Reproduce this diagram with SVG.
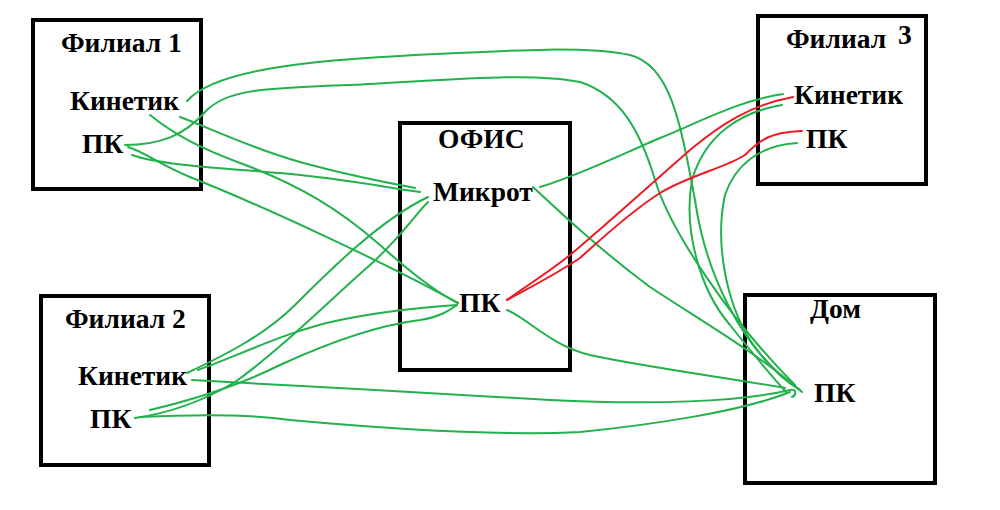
<svg xmlns="http://www.w3.org/2000/svg" width="1000" height="510" viewBox="0 0 1000 510">
<style>
.box{fill:none;stroke:#000;stroke-width:4}
.t{font-family:"Liberation Serif","Times New Roman",serif;font-weight:bold;font-size:27.5px;fill:#000}
.g{fill:none;stroke:#22b14c;stroke-width:2;stroke-linecap:round;stroke-linejoin:round}
.r{fill:none;stroke:#ed1c24;stroke-width:2;stroke-linecap:round;stroke-linejoin:round}
</style>
<rect width="1000" height="510" fill="#fff"/>
<g id="filial1">
<rect class="box" x="33" y="20" width="168" height="169"/>
<text class="t" x="61" y="52">Филиал 1</text>
<text class="t" x="70" y="110">Кинетик</text>
<text class="t" x="82" y="153">ПК</text>
</g>
<g id="filial2">
<rect class="box" x="41" y="296" width="168" height="169"/>
<text class="t" x="65" y="328">Филиал 2</text>
<text class="t" x="78" y="385">Кинетик</text>
<text class="t" x="90" y="428">ПК</text>
</g>
<g id="office">
<rect class="box" x="400" y="123" width="170" height="247"/>
<text class="t" x="438" y="148">ОФИС</text>
<text class="t" x="433" y="201">Микрот</text>
<text class="t" x="459" y="312">ПК</text>
</g>
<g id="filial3">
<rect class="box" x="758" y="16" width="168" height="168"/>
<text class="t" x="786" y="48">Филиал <tspan dx="5" dy="-4">3</tspan></text>
<text class="t" x="794" y="104">Кинетик</text>
<text class="t" x="806" y="148">ПК</text>
</g>
<g id="home">
<rect class="box" x="745" y="295" width="190" height="188"/>
<text class="t" x="810" y="318">Дом</text>
<text class="t" x="814" y="402">ПК</text>
</g>
<g id="connectors">
<path class="g" d="M187,101 C210,75 280,62 400,56 C500,51 580,45 630,55 C670,65 680,120 695,200 C705,270 740,350 800,390"/>
<path class="g" d="M125,145 C160,145 185,135 205,112 C225,90 260,88 350,85 C450,80 530,72 580,82 C620,95 640,130 655,180 C670,230 730,320 795,385"/>
<path class="g" d="M180,117 C210,128 250,148 300,162 S390,183 415,188"/>
<path class="g" d="M132,155 C160,165 220,168 280,173 S390,188 420,192"/>
<path class="g" d="M150,115 C175,135 200,148 240,163 C300,185 340,210 380,245 C410,272 435,292 458,303"/>
<path class="g" d="M128,147 C145,152 160,165 190,177 C260,205 380,260 458,303"/>
<path class="g" d="M187,373 C225,355 265,335 295,305 C330,270 380,220 428,197"/>
<path class="g" d="M135,418 C170,413 205,400 235,382 C280,350 330,300 370,265 C400,238 415,215 428,202"/>
<path class="g" d="M198,370 C240,355 290,330 340,320 S420,308 457,305"/>
<path class="g" d="M150,410 C200,398 240,385 280,365 C330,342 380,325 420,320 C440,317 450,310 457,305"/>
<path class="g" d="M192,380 C300,385 450,395 550,400 C650,405 740,402 790,390 C796,388 797,395 792,397"/>
<path class="g" d="M140,417 C200,414 250,414 290,420 C400,430 500,436 580,432 C650,425 740,412 790,392"/>
<path class="g" d="M540,187 C580,175 620,155 660,138 C700,122 740,100 783,94"/>
<path class="g" d="M533,187 C560,212 600,250 650,287 C700,320 760,355 802,392"/>
<path class="g" d="M507,310 C530,320 550,345 590,355 C650,368 730,378 785,388"/>
<path class="g" d="M782,105 C740,112 705,135 692,180 C683,230 700,290 730,325 C750,350 770,375 787,393"/>
<path class="g" d="M797,143 C760,145 735,165 725,195 C715,240 725,300 750,340 C765,362 780,378 800,390"/>
<path class="r" d="M793,97 C750,105 720,125 690,150 C650,185 600,230 570,255 C545,275 520,290 507,300"/>
<path class="r" d="M802,131 C770,132 760,140 745,155 C725,168 690,175 660,193 C630,212 600,240 580,258 C555,275 525,290 507,300"/>
</g>
</svg>
